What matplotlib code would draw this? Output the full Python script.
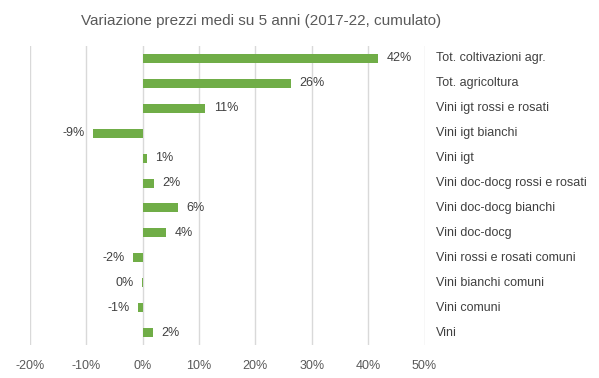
import matplotlib
matplotlib.use("Agg")
import matplotlib.pyplot as plt
import numpy as np

categories = [
    "Tot. coltivazioni agr.",
    "Tot. agricoltura",
    "Vini igt rossi e rosati",
    "Vini igt bianchi",
    "Vini igt",
    "Vini doc-docg rossi e rosati",
    "Vini doc-docg bianchi",
    "Vini doc-docg",
    "Vini rossi e rosati comuni",
    "Vini bianchi comuni",
    "Vini comuni",
    "Vini",
]
values = [41.8, 26.3, 11.1, -8.8, 0.8, 2.0, 6.3, 4.2, -1.7, -0.2, -0.8, 1.8]
value_labels = ["42%", "26%", "11%", "-9%", "1%", "2%", "6%", "4%", "-2%", "0%", "-1%", "2%"]
xticks = [-20, -10, 0, 10, 20, 30, 40, 50]

plt.rcParams["font.family"] = ["Liberation Sans", "DejaVu Sans"]

BAR = "#70AD47"
GRID = "#D9D9D9"
TXT = "#404040"
FS = 9

fig = plt.figure(figsize=(5.99, 3.78), dpi=100)
ax = fig.add_axes([30 / 599, 1 - 345 / 378, (424.5 - 30) / 599, (345 - 46) / 378])

y = np.arange(len(categories))
ax.barh(y, values, height=0.36, color=BAR, zorder=3)

for yi, v, lab, cat in zip(y, values, value_labels, categories):
    off = 6 if v >= 0 else -6
    ax.annotate(lab, (v, yi), xytext=(off, 0), textcoords="offset points",
                ha="left" if v >= 0 else "right", va="center",
                fontsize=FS, color=TXT, zorder=4)
    ax.text(52, yi, cat, ha="left", va="center", fontsize=FS, color=TXT, clip_on=False)

ax.set_xlim(-20, 50)
ax.set_ylim(len(categories) - 0.5, -0.5)
ax.set_xticks(xticks)
ax.set_xticklabels([f"{t}%" for t in xticks], fontsize=FS, color="#595959")
ax.set_yticks([])
ax.tick_params(axis="x", length=0, pad=11)
ax.grid(axis="x", color=GRID, linewidth=1, zorder=0)
for s in ax.spines.values():
    s.set_visible(False)

fig.text(0.435, 1 - 21 / 378, "Variazione prezzi medi su 5 anni (2017-22, cumulato)",
         ha="center", va="center", fontsize=11, color="#595959")

fig.savefig("out.png", dpi=100)
